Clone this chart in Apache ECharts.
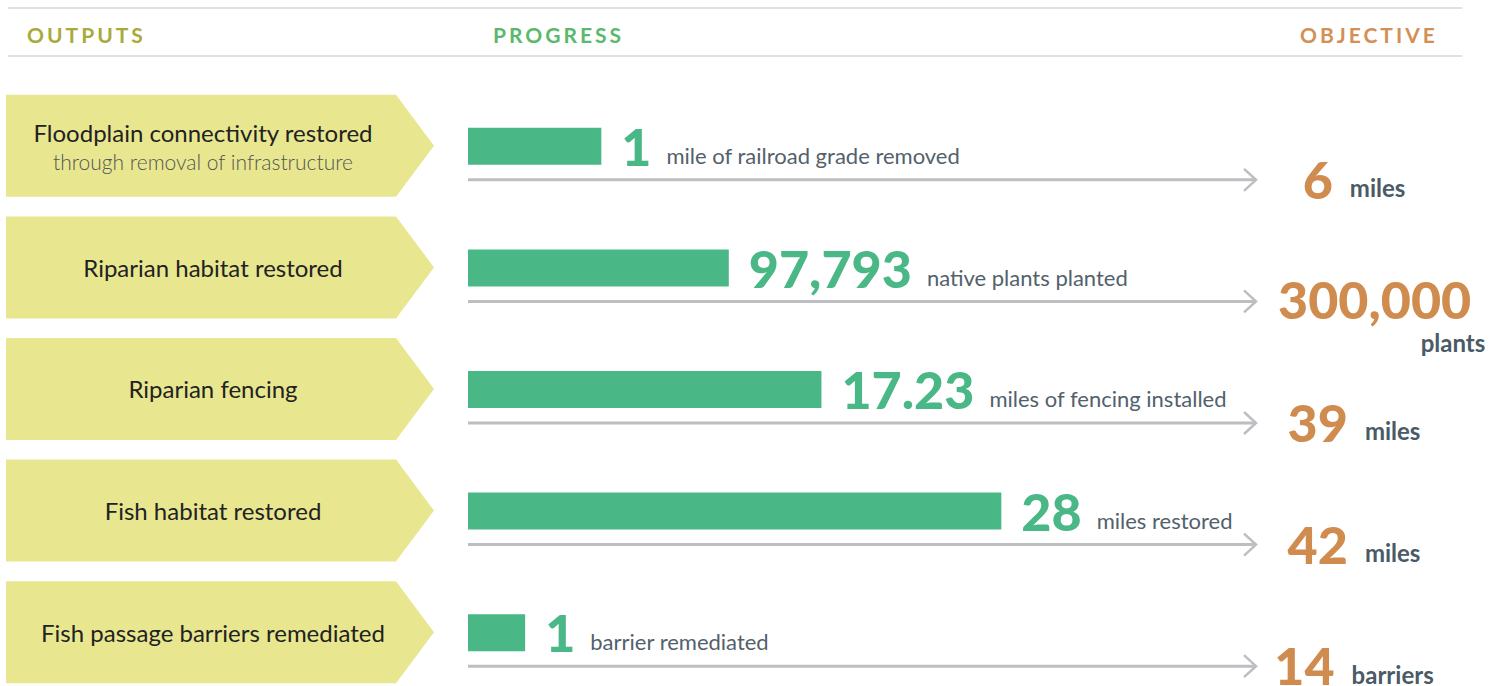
<!DOCTYPE html>
<html>
<head>
<meta charset="utf-8">
<title>Outputs, progress and objectives</title>
<script src="https://cdn.jsdelivr.net/npm/echarts@6/dist/echarts.min.js"></script>
<style>
html, body { margin: 0; padding: 0; background: #fff; }
#main { width: 1510px; height: 686px; }
/* zrender has no letter spacing, so the header texts get it from css (svg renderer) */
#main text[fill="#a9aa3a"], #main text[fill="#5cb96c"], #main text[fill="#d38f55"] { letter-spacing: 3px; }
</style>
</head>
<body>
<div id="main"></div>
<script>
// data
const outputs = [
  'Floodplain connectivity restored',
  'Riparian habitat restored',
  'Riparian fencing',
  'Fish habitat restored',
  'Fish passage barriers remediated'
];
const outputNotes = ['through removal of infrastructure', '', '', '', ''];
const progress = [1, 97793, 17.23, 28, 1];
const progressText = [
  'mile of railroad grade removed',
  'native plants planted',
  'miles of fencing installed',
  'miles restored',
  'barrier remediated'
];
const objective = [6, 300000, 39, 42, 14];
const objectiveUnit = ['miles', 'plants', 'miles', 'miles', 'barriers'];
const headers = ['OUTPUTS', 'PROGRESS', 'OBJECTIVE'];

// colours
const boxColor = '#e8e790';
const barColor = '#4ab787';
const arrowColor = '#bdbec2';
const goalColor = '#d08b4e';
const slate = '#52616b';

const bigFont = '900 52px Lato';
const descFont = '22px Lato';
const unitFont = 'bold 24px Lato';

const measure = document.createElement('canvas').getContext('2d');
function textWidth(str, font) {
  measure.font = font;
  return measure.measureText(str).width;
}
function fmt(v) {
  return v.toLocaleString('en-US', { maximumFractionDigits: 2 });
}
// text placed by its baseline (size * 0.38 under the middle of the box)
function txt(x, base, size, str, font, fill, align) {
  return {
    type: 'text',
    style: {
      x: x, y: base - size * 0.38, text: str, font: font, fill: fill,
      align: align || 'left', verticalAlign: 'middle'
    }
  };
}

const arrowTo = 0.985;

function renderRow(params, api) {
  const i = params.dataIndex;
  const start = api.coord([0, i]);
  const end = api.coord([api.value(0), i]);
  const x0 = start[0];
  const c = start[1];
  const ax = api.coord([arrowTo, i])[0];
  const ay = c + 34;
  const kids = [];

  // chevron box with the output name
  kids.push({
    type: 'polygon',
    shape: { points: [[6, c - 51], [396, c - 51], [434, c], [396, c + 51], [6, c + 51]] },
    style: { fill: boxColor }
  });
  if (outputNotes[i]) {
    kids.push(txt(203, c - 4, 24, outputs[i], '24px Lato', '#222', 'center'));
    kids.push(txt(203, c + 24, 21, outputNotes[i], '300 21px Lato', '#555', 'center'));
  } else {
    kids.push(txt(213, c + 9, 24, outputs[i], '24px Lato', '#222', 'center'));
  }

  // bar
  kids.push({
    type: 'rect',
    shape: { x: x0, y: c - 18, width: end[0] - x0, height: 37 },
    style: { fill: barColor }
  });

  // arrow
  kids.push({
    type: 'polyline',
    shape: { points: [[x0, ay], [ax, ay]] },
    style: { stroke: arrowColor, lineWidth: 3, fill: null }
  });
  kids.push({
    type: 'polyline',
    shape: { points: [[ax - 12, ay - 11], [ax, ay], [ax - 12, ay + 11]] },
    style: { stroke: arrowColor, lineWidth: 2.5, fill: null }
  });

  // progress number + text
  const num = fmt(progress[i]);
  const nx = end[0] + 20;
  const nw = textWidth(num, bigFont);
  kids.push(txt(nx, c + 20, 52, num, bigFont, barColor));
  kids.push(txt(nx + nw + 15, c + 18, 22, progressText[i], descFont, slate));

  // objective
  const goal = fmt(objective[i]);
  const gw = textWidth(goal, bigFont);
  const uw = textWidth(objectiveUnit[i], unitFont);
  const gb = ay + 19;
  if (gw > 160) {
    // wide number: unit goes on the next line
    const gx = 1278;
    kids.push(txt(gx, gb - 2, 52, goal, bigFont, goalColor));
    kids.push(txt(gx + gw + 14, gb + 31, 24, objectiveUnit[i], unitFont, '#4a5a66', 'right'));
  } else {
    const gx = 1354 - (gw + 17 + uw) / 2;
    kids.push(txt(gx, gb, 52, goal, bigFont, goalColor));
    kids.push(txt(gx + gw + 17, gb - 2, 24, objectiveUnit[i], unitFont, '#4a5a66'));
  }

  return { type: 'group', children: kids };
}

const chart = echarts.init(document.getElementById('main'), null, { renderer: 'svg' });

chart.setOption({
  animation: false,
  grid: { left: 468, width: 800, top: 85, height: 608, outerBoundsMode: 'none' },
  xAxis: { type: 'value', min: 0, max: 1, show: false },
  yAxis: { type: 'category', data: outputs, inverse: true, show: false },
  graphic: [
    { type: 'line', shape: { x1: 8, y1: 8, x2: 1462, y2: 8 }, style: { stroke: '#d6d6d6', lineWidth: 1.5 } },
    { type: 'line', shape: { x1: 8, y1: 56, x2: 1462, y2: 56 }, style: { stroke: '#d6d6d6', lineWidth: 1.5 } },
    { type: 'text', x: 27, y: 34, style: { text: headers[0], font: 'bold 21px Lato', fill: '#a9aa3a', verticalAlign: 'middle' } },
    { type: 'text', x: 493, y: 34, style: { text: headers[1], font: 'bold 21px Lato', fill: '#5cb96c', verticalAlign: 'middle' } },
    { type: 'text', x: 1300, y: 34, style: { text: headers[2], font: 'bold 21px Lato', fill: '#d38f55', verticalAlign: 'middle' } }
  ],
  series: [{
    type: 'custom',
    renderItem: renderRow,
    encode: { x: 0, y: 1 },
    data: progress.map((p, i) => [p / objective[i], i])
  }]
});
</script>
</body>
</html>
